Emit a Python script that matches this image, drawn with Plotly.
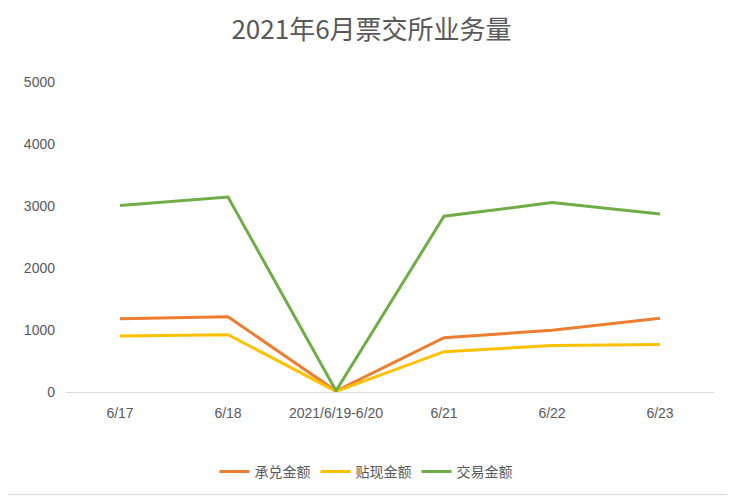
import plotly.graph_objects as go

categories = ["6/17", "6/18", "2021/6/19-6/20", "6/21", "6/22", "6/23"]
acceptance = [1180, 1215, 15, 875, 995, 1190]
discount = [905, 925, 10, 650, 750, 765]
trading = [3010, 3145, 20, 2835, 3055, 2870]

series = [
    ("承兑金额", acceptance, "#ED7D31"),
    ("贴现金额", discount, "#FFC000"),
    ("交易金额", trading, "#70AD47"),
]

font_family = "Liberation Sans, Noto Sans CJK SC, sans-serif"
cjk_family = "Noto Sans CJK SC, sans-serif"
text_color = "#595959"

# the page body keeps its default margin, so the figure is a bit smaller
fig = go.Figure()
for name, values, color in series:
    fig.add_trace(
        go.Scatter(
            x=categories,
            y=values,
            name=name,
            mode="lines",
            line=dict(color=color, width=3),
        )
    )

fig.update_layout(
    width=727,
    height=488,
    paper_bgcolor="white",
    plot_bgcolor="white",
    margin=dict(l=58, r=21, t=74, b=104, autoexpand=False),
    font=dict(family=font_family, size=14, color=text_color),
    title=dict(
        text="2021年6月票交所业务量",
        x=0.5,
        xanchor="center",
        y=0.955,
        yanchor="middle",
        font=dict(size=26, color=text_color, family=cjk_family),
    ),
    legend=dict(
        orientation="h",
        x=0.463,
        xanchor="center",
        y=-0.258,
        yanchor="middle",
        font=dict(size=14, color=text_color, family=cjk_family),
        itemwidth=30,
        tracegroupgap=0,
    ),
    showlegend=True,
)

fig.update_xaxes(
    type="category",
    range=[-0.5, 5.5],
    showline=True,
    linecolor="#D9D9D9",
    linewidth=1,
    showgrid=False,
    ticks="",
    ticklabelstandoff=8,
    zeroline=False,
    automargin=False,
)
fig.update_yaxes(
    range=[0, 5000],
    dtick=1000,
    showgrid=False,
    showline=False,
    zeroline=False,
    ticks="",
    ticklabelstandoff=10,
    automargin=False,
)

fig.add_shape(
    type="rect",
    xref="paper",
    yref="paper",
    x0=-70 / 648,
    x1=1 + 19.5 / 648,
    y0=-102.5 / 310,
    y1=1 + 90 / 310,
    line=dict(color="#D9D9D9", width=1),
)

fig.write_html("out.html")
